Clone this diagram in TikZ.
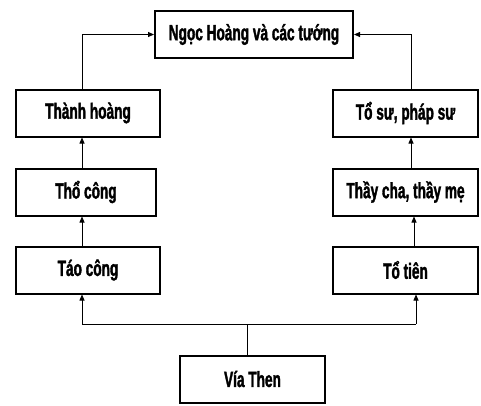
\documentclass[tikz,border=0pt]{standalone}
\usepackage{fontspec}
\setmainfont[FakeStretch=0.62,BoldFeatures={FakeBold=1.5}]{Liberation Sans}
\usetikzlibrary{arrows.meta}
\begin{document}
\begin{tikzpicture}[x=1pt,y=-1pt,
  box/.style={draw,line width=2pt,minimum height=47pt,inner sep=0pt,font=\bfseries\fontsize{22}{24}\selectfont},
  conn/.style={line width=0.8pt,-{Triangle[length=6pt,width=5pt]}},
  plain/.style={line width=0.8pt}]
\useasboundingbox (0,0) rectangle (481,405);
\node[box,minimum width=198pt] (top) at (254,34.5) {Ngọc Hoàng và các tướng};
\node[box,minimum width=144pt] (th) at (88,113) {Thành hoàng};
\node[box,minimum width=140pt] (tc) at (86,192) {Thổ công};
\node[box,minimum width=144pt] (tao) at (88,270) {Táo công};
\node[box,minimum width=145pt] (ts) at (405.5,113) {Tổ sư, pháp sư};
\node[box,minimum width=145pt] (tcm) at (405.5,192) {Thầy cha, thầy mẹ};
\node[box,minimum width=145pt] (tt) at (405.5,270) {Tổ tiên};
\node[box,minimum width=145pt] (via) at (252.5,379) {Vía Then};
\coordinate (j) at (247,324);
\coordinate (jl) at (82,324);
\coordinate (jr) at (416,324);
\draw[plain] (via.north -| j) -- (j);
\draw[plain] (jl) -- (jr);
\draw[conn] (jl) -- (jl |- tao.south);
\draw[conn] (jr) -- (jr |- tt.south);
\draw[conn] (tao.north -| jl) -- (tc.south -| jl);
\draw[conn] (tc.north -| jl) -- (th.south -| jl);
\draw[conn] (tt.north -| 414,0) -- (tcm.south -| 414,0);
\draw[conn] (tcm.north -| 411,0) -- (ts.south -| 411,0);
\draw[conn] (th.north -| jl) |- (top.west);
\draw[conn] (ts.north -| 411,0) |- (top.east);
\end{tikzpicture}
\end{document}
